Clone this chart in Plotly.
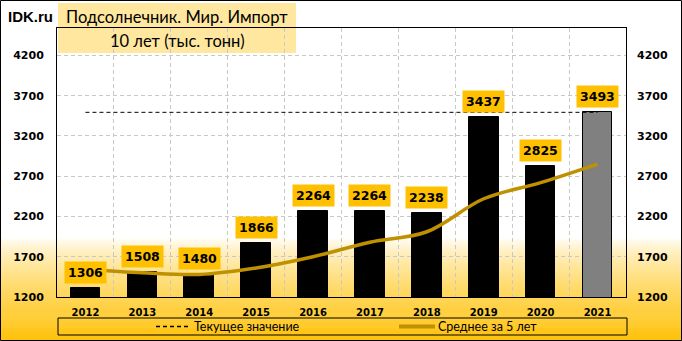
import plotly.graph_objects as go

# ---- data ----
years = ["2012", "2013", "2014", "2015", "2016", "2017", "2018", "2019", "2020", "2021"]
imports = [1306, 1508, 1480, 1866, 2264, 2264, 2238, 3437, 2825, 3493]
avg5 = [1540, 1500, 1480, 1560, 1700, 1880, 2010, 2420, 2620, 2850]
y_ticks = [1200, 1700, 2200, 2700, 3200, 3700, 4200]
title1 = "Подсолнечник. Мир. Импорт"
title2 = "10 лет (тыс. тонн)"
name_current = "Текущее значение"
name_avg = "Среднее за 5 лет"

W, H = 682, 341
ML, MR, MT, MB = 57, 56, 28, 44
PW, PH = W - ML - MR, H - MT - MB

def px_x(px):
    return (px - ML) / PW

def px_y(py):
    return (H - MB - py) / PH

idx = list(range(len(years)))
current = [imports[-1]] * len(years)
AVG_COLOR = "#BF9000"

fig = go.Figure()
fig.add_trace(go.Scatter(x=idx, y=current, mode="lines", name=name_current,
                         line=dict(color="black", width=1, dash="4px,3px"), hoverinfo="skip"))
fig.add_trace(go.Bar(x=idx, y=imports, width=0.52, name="Импорт",
                     marker=dict(color=["black"] * (len(years) - 1) + ["#808080"],
                                 line=dict(color="black", width=1))))
fig.add_trace(go.Scatter(x=idx, y=avg5, mode="lines", name=name_avg,
                         line=dict(color=AVG_COLOR, width=3.5, shape="spline", smoothing=1.0)))
fig.add_trace(go.Scatter(x=idx, y=imports, yaxis="y2", mode="markers",
                         marker=dict(opacity=0), hoverinfo="skip"))

for i, v in zip(idx, imports):
    fig.add_annotation(x=i, y=v, text=f"<b>{v}</b>", showarrow=False, yanchor="bottom",
                       yshift=4, bgcolor="#FFC000", borderpad=3,
                       font=dict(family="DejaVu Sans", size=12.5, color="black"))

shapes = []
# background gradient (white -> amber)
top_px, n = 238, 52
for k in range(n):
    y0 = top_px + (H - top_px) * k / n
    y1 = top_px + (H - top_px) * (k + 1) / n + 0.6
    t = (k + 0.5) / n
    t = t ** 0.7
    g = round(255 - (255 - 194) * t)
    b = round(255 - (255 - 10) * t)
    shapes.append(dict(type="rect", xref="paper", yref="paper", layer="below",
                       x0=px_x(0), x1=px_x(W), y0=px_y(y1), y1=px_y(y0),
                       fillcolor=f"rgb(255,{g},{b})", line=dict(width=0)))
# title box
shapes.append(dict(type="rect", xref="paper", yref="paper", layer="below",
                   x0=px_x(58), x1=px_x(296), y0=px_y(53), y1=px_y(3),
                   fillcolor="#FFE79F", line=dict(width=0)))
# legend frame
LEG_Y = 326.5
shapes.append(dict(type="rect", xref="paper", yref="paper", layer="above",
                   x0=px_x(58), x1=px_x(627), y0=px_y(335), y1=px_y(318),
                   fillcolor="rgba(0,0,0,0)", line=dict(color="black", width=1)))
# legend keys
shapes.append(dict(type="line", xref="paper", yref="paper", layer="above",
                   x0=px_x(156), x1=px_x(189), y0=px_y(LEG_Y), y1=px_y(LEG_Y),
                   line=dict(color="black", width=1.3, dash="4px,3px")))
shapes.append(dict(type="line", xref="paper", yref="paper", layer="above",
                   x0=px_x(399), x1=px_x(435), y0=px_y(LEG_Y), y1=px_y(LEG_Y),
                   line=dict(color=AVG_COLOR, width=4)))
# outer border
shapes.append(dict(type="rect", xref="paper", yref="paper", layer="above",
                   x0=px_x(0.5), x1=px_x(W - 0.5), y0=px_y(H - 0.5), y1=px_y(0.5),
                   fillcolor="rgba(0,0,0,0)", line=dict(color="black", width=1)))

leg_font = dict(family="Lato", size=12.5, color="black")
annos = [
    dict(text="<b>IDK.ru</b>", x=px_x(7), y=px_y(17), xanchor="left", yanchor="middle",
         font=dict(family="Liberation Sans", size=15, color="black")),
    dict(text=title1, x=px_x(177), y=px_y(17), xanchor="center", yanchor="middle",
         font=dict(family="Lato", size=16.5, color="black")),
    dict(text=title2, x=px_x(177), y=px_y(41), xanchor="center", yanchor="middle",
         font=dict(family="Lato", size=16.5, color="black")),
    dict(text=name_current, x=px_x(193), y=px_y(LEG_Y), xanchor="left", yanchor="middle",
         font=leg_font),
    dict(text=name_avg, x=px_x(437), y=px_y(LEG_Y), xanchor="left", yanchor="middle",
         font=leg_font),
]
for a in annos:
    fig.add_annotation(xref="paper", yref="paper", showarrow=False, borderpad=0, **a)

axis_font = dict(family="DejaVu Sans", size=11, color="black", weight="bold")
yrange = [1200, 4540]
fig.update_layout(
    width=W, height=H,
    margin=dict(l=ML, r=MR, t=MT, b=MB, pad=0, autoexpand=False),
    paper_bgcolor="white", plot_bgcolor="rgba(0,0,0,0)",
    shapes=shapes, bargap=0, showlegend=False,
    xaxis=dict(range=[-0.5, len(years) - 0.5], tickvals=idx, ticktext=years,
               tickfont=dict(family="DejaVu Sans", size=10, color="black", weight="bold"),
               showgrid=False, zeroline=False, showline=True, mirror=True,
               linecolor="black", linewidth=1, ticks="", ticklabelstandoff=6,
               minor=dict(tick0=0.5, dtick=1, showgrid=True, gridcolor="#C8C8C8",
                          griddash="4px,3px", gridwidth=1)),
    yaxis=dict(range=yrange, tickvals=y_ticks, tickfont=axis_font,
               showgrid=True, gridcolor="#C8C8C8", griddash="4px,3px", gridwidth=1,
               zeroline=False, showline=True, mirror=True, linecolor="black", linewidth=1,
               ticks="", ticklabelstandoff=10),
    yaxis2=dict(range=yrange, tickvals=y_ticks, tickfont=axis_font, overlaying="y",
                side="right", showgrid=False, zeroline=False, showline=False,
                ticks="", ticklabelstandoff=10),
)

fig.write_html("out.html")
